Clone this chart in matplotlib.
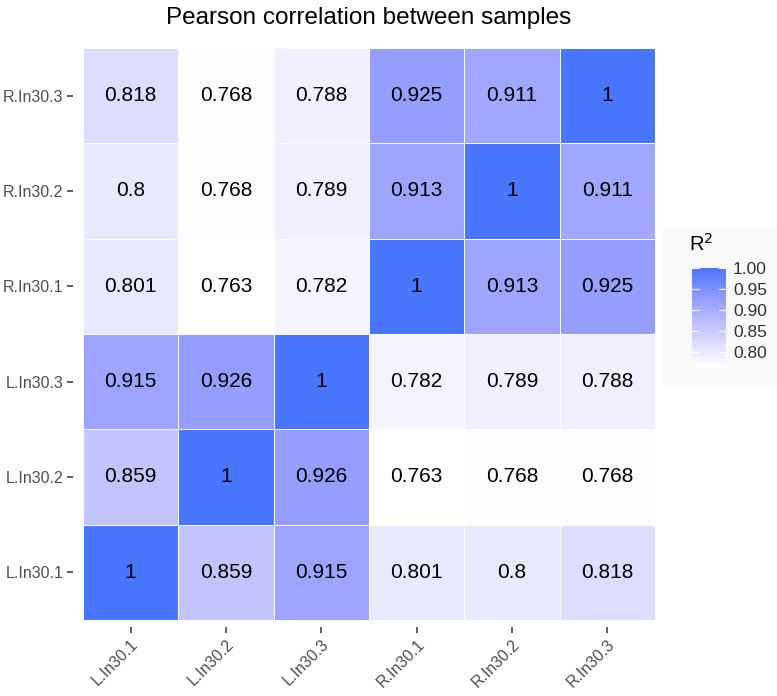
import matplotlib
matplotlib.use("Agg")
import matplotlib.pyplot as plt
import numpy as np
from matplotlib.colors import ListedColormap

plt.rcParams['font.family'] = ['Liberation Sans', 'DejaVu Sans']

samples = ["L.In30.1", "L.In30.2", "L.In30.3", "R.In30.1", "R.In30.2", "R.In30.3"]
# correlation matrix rows/cols in sample order
corr = np.array([
    [1,     0.859, 0.915, 0.801, 0.8,   0.818],
    [0.859, 1,     0.926, 0.763, 0.768, 0.768],
    [0.915, 0.926, 1,     0.782, 0.789, 0.788],
    [0.801, 0.763, 0.782, 1,     0.913, 0.925],
    [0.8,   0.768, 0.789, 0.913, 1,     0.911],
    [0.818, 0.768, 0.788, 0.925, 0.911, 1],
])
cbar_ticks = [0.80, 0.85, 0.90, 0.95, 1.00]


# Lab-space gradient (like ggplot2 scale_fill_gradient) white -> royalblue1
def srgb_to_lab(rgb):
    rgb = np.asarray(rgb, float)
    lin = np.where(rgb <= 0.04045, rgb / 12.92, ((rgb + 0.055) / 1.055) ** 2.4)
    M = np.array([[0.4124, 0.3576, 0.1805], [0.2126, 0.7152, 0.0722], [0.0193, 0.1192, 0.9505]])
    xyz = M @ lin
    wp = np.array([0.95047, 1.0, 1.08883])
    t = xyz / wp
    f = np.where(t > 0.008856, np.cbrt(t), 7.787 * t + 16 / 116)
    return np.array([116 * f[1] - 16, 500 * (f[0] - f[1]), 200 * (f[1] - f[2])])


def lab_to_srgb(lab):
    L, a, b = lab
    fy = (L + 16) / 116
    fx = fy + a / 500
    fz = fy - b / 200
    f = np.array([fx, fy, fz])
    t = np.where(f ** 3 > 0.008856, f ** 3, (f - 16 / 116) / 7.787)
    xyz = t * np.array([0.95047, 1.0, 1.08883])
    Minv = np.array([[3.2406, -1.5372, -0.4986], [-0.9689, 1.8758, 0.0415], [0.0557, -0.2040, 1.0570]])
    lin = Minv @ xyz
    rgb = np.where(lin <= 0.0031308, 12.92 * lin, 1.055 * np.clip(lin, 0, None) ** (1 / 2.4) - 0.055)
    return np.clip(rgb, 0, 1)


lo = srgb_to_lab([1, 1, 1])
hi = srgb_to_lab(np.array([72, 118, 255]) / 255)
cols = [lab_to_srgb(lo + (hi - lo) * s) for s in np.linspace(0, 1, 256)]
cmap = ListedColormap(cols)

W, H = 777, 696
fig = plt.figure(figsize=(W/100, H/100), dpi=100)
ax = fig.add_axes([83/W, 1-620/H, (655-83)/W, (620-48)/H])
ax.spines['left'].set_position(('outward', 7))
ax.spines['bottom'].set_position(('outward', 5))
for s in ax.spines.values():
    s.set_visible(False)

vmin, vmax = corr.min(), corr.max()
n = len(samples)
ax.pcolormesh(np.arange(n+1)-0.5, np.arange(n+1)-0.5, corr, cmap=cmap,
              vmin=vmin, vmax=vmax, edgecolor="white", linewidth=0.6)
for i in range(n):
    for j in range(n):
        ax.text(j, i, f"{corr[i, j]:g}", ha="center", va="center",
                fontsize=15, color="black")
ax.set_xlim(-0.5, n-0.5)
ax.set_ylim(-0.5, n-0.5)
ax.set_xticks(range(n))
ax.set_yticks(range(n))
ax.set_xticklabels(samples, rotation=45, ha="right", rotation_mode="anchor",
                   fontsize=11.5, color="#4D4D4D")
ax.set_yticklabels(samples, fontsize=11.5, color="#4D4D4D")
ax.tick_params(axis="both", length=4, width=1.1, color="#333333", pad=3)

fig.text(369/W, 1-18/H, "Pearson correlation between samples", ha="center",
         va="center", fontsize=17.5, color="black")

# legend background
bg = fig.add_axes([663/W, 1-385/H, (777-663)/W, (385-228)/H], zorder=0)
bg.set_facecolor("#F9F9F9")
bg.set_xticks([]); bg.set_yticks([])
for s in bg.spines.values():
    s.set_visible(False)

top_px, bot_px = 268, 367
cax = fig.add_axes([692/W, 1-bot_px/H, (726-692)/W, (bot_px-top_px)/H], zorder=2)
grad = np.linspace(vmin, vmax, 256).reshape(-1, 1)
cax.imshow(grad, aspect="auto", cmap=cmap, vmin=vmin, vmax=vmax,
           origin="lower", extent=[0, 1, vmin, vmax])
cax.set_xlim(0, 1)
cax.set_ylim(vmin, vmax)
cax.set_xticks([])
cax.yaxis.tick_right()
cax.set_yticks(cbar_ticks)
cax.set_yticklabels([f"{t:.2f}" for t in cbar_ticks], fontsize=12.5, color="#333333")
cax.tick_params(axis="y", length=0, pad=5)
for t in cbar_ticks:
    cax.plot([0, 0.2], [t, t], color="white", lw=0.8)
    cax.plot([0.8, 1], [t, t], color="white", lw=0.8)
for s in cax.spines.values():
    s.set_visible(False)
fig.text(689/W, 1-244/H, "R$^2$", ha="left", va="center", fontsize=14.5, zorder=3)

fig.savefig("out.png", dpi=100)
